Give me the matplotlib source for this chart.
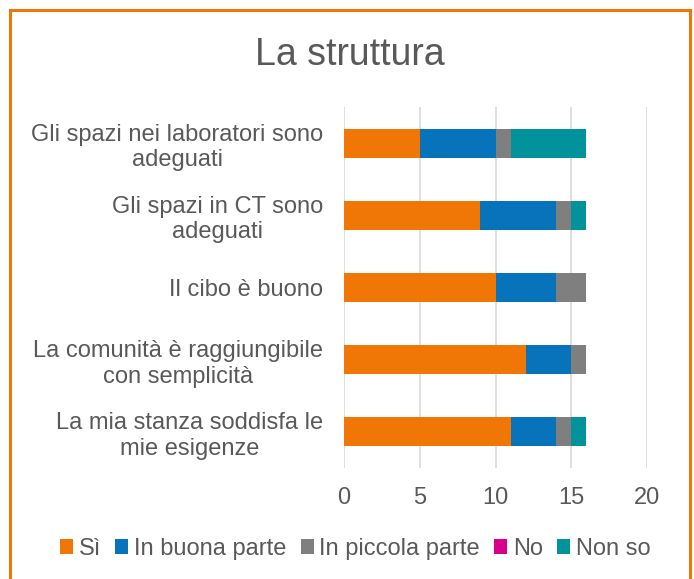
import matplotlib
matplotlib.use("Agg")
import matplotlib.pyplot as plt
from matplotlib.patches import Rectangle, Patch
import numpy as np

plt.rcParams['font.family'] = ['Liberation Sans', 'DejaVu Sans']

categories = [
    "Gli spazi nei laboratori sono\nadeguati",
    "Gli spazi in CT sono\nadeguati",
    "Il cibo è buono",
    "La comunità è raggiungibile\ncon semplicità",
    "La mia stanza soddisfa le\nmie esigenze",
]
series_names = ["Sì", "In buona parte", "In piccola parte", "No", "Non so"]
si = [5, 9, 10, 12, 11]
buona = [5, 5, 4, 3, 3]
piccola = [1, 1, 2, 1, 1]
no = [0, 0, 0, 0, 0]
nonso = [5, 1, 0, 0, 1]
colors = ["#F07606", "#0673BA", "#7F7F7F", "#D6008A", "#00939C"]
xticks = [0, 5, 10, 15, 20]

fig = plt.figure(figsize=(6.94, 5.79), dpi=100)
ax = fig.add_axes([0.4957, 0.1917, 0.4366, 0.6235])

y = np.arange(len(categories))
left = np.zeros(len(categories))
for name, vals, c in zip(series_names, [si, buona, piccola, no, nonso], colors):
    vals = np.array(vals, dtype=float)
    ax.barh(y, vals, left=left, height=0.4, color=c, label=name, zorder=3)
    left += vals

ax.set_ylim(len(categories) - 0.5, -0.5)
ax.set_xlim(0, 20)
ax.set_xticks(xticks)
ax.set_xticklabels([str(t) for t in xticks])
ax.set_yticks(y)
ax.set_yticklabels(categories, multialignment='center')
ax.tick_params(axis='x', length=0, pad=14, labelsize=17, labelcolor='#595959')
ax.tick_params(axis='y', length=0, pad=15, labelsize=17, labelcolor='#595959')
for lab in ax.get_yticklabels():
    lab.set_horizontalalignment('right')
ax.grid(axis='x', color='#D9D9D9', linewidth=1.2, zorder=0)
for s in ax.spines.values():
    s.set_visible(False)

fig.text(0.504, 0.905, "La struttura", ha='center', va='center',
         fontsize=27, color='#595959')

handles = [Patch(facecolor=c, edgecolor='none') for c in colors]
fig.legend(handles, series_names, loc='center', bbox_to_anchor=(0.512, 0.052),
           ncol=5, frameon=False, fontsize=17, labelcolor='#595959',
           handlelength=0.55, handleheight=0.55, handletextpad=0.25,
           columnspacing=0.6)

fig.patches.append(Rectangle((9.5 / 694, -0.05), (690 - 9.5) / 694, 1.05 - 9.5 / 579,
                             transform=fig.transFigure, fill=False,
                             edgecolor='#F07606', linewidth=2.2))

fig.savefig("out.png", dpi=100)
